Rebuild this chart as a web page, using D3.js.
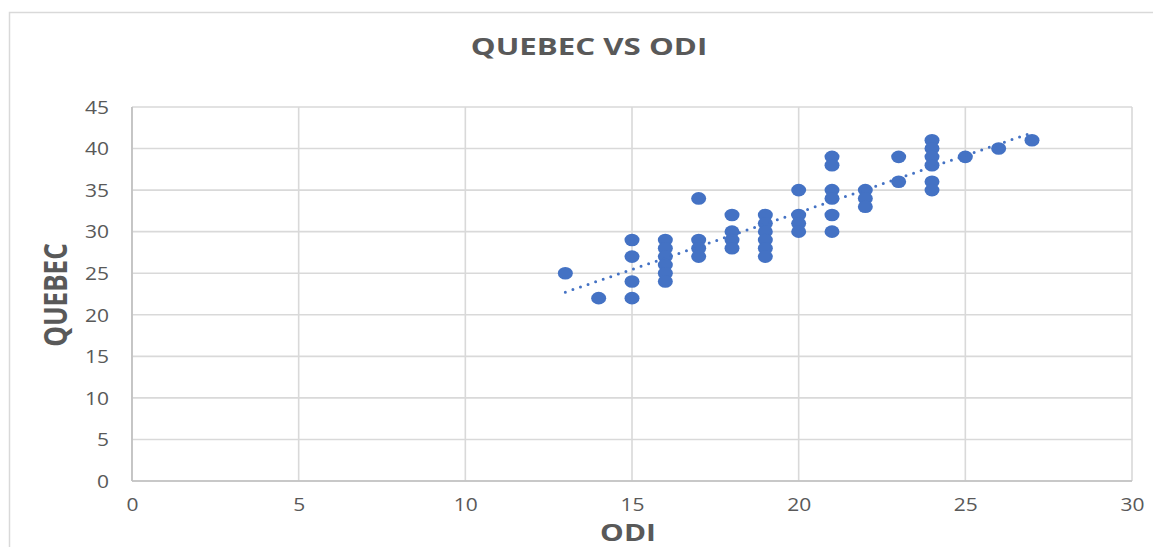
<!DOCTYPE html>
<html>
<head>
<meta charset="utf-8">
<script src="https://cdn.jsdelivr.net/npm/d3@7"></script>
<style>
  html, body { margin: 0; padding: 0; background: #fff; }
  svg { display: block; font-family: "Open Sans", sans-serif; }
</style>
</head>
<body>
<svg id="chart" width="1153" height="547"></svg>
<script>
// ---- data ----
const odi    = [13, 14, 15, 15, 15, 15, 16, 16, 16, 16, 16, 16, 17, 17, 17, 17, 18, 18, 18, 18,
                19, 19, 19, 19, 19, 19, 20, 20, 20, 20, 21, 21, 21, 21, 21, 21, 22, 22, 22,
                23, 23, 24, 24, 24, 24, 24, 24, 25, 26, 27];
const quebec = [25, 22, 29, 27, 24, 22, 29, 28, 27, 26, 25, 24, 34, 29, 28, 27, 32, 30, 29, 28,
                32, 31, 30, 29, 28, 27, 35, 32, 31, 30, 39, 38, 35, 34, 32, 30, 35, 34, 33,
                39, 36, 41, 40, 39, 38, 36, 35, 39, 40, 41];
const xTicks = [0, 5, 10, 15, 20, 25, 30];
const yTicks = [0, 5, 10, 15, 20, 25, 30, 35, 40, 45];
const chartTitle = "QUEBEC VS ODI";
const xTitle = "ODI";
const yTitle = "QUEBEC";

const svg = d3.select("#chart");
const pL = 132, pR = 1132, pT = 107, pB = 481;
const stretch = 1.2; // horizontal stretch of glyphs seen in the reference

const x = d3.scaleLinear().domain([0, 30]).range([pL, pR]);
const y = d3.scaleLinear().domain([0, 45]).range([pB, pT]);

// outer chart border
svg.append("rect").attr("x", 9.5).attr("y", 12.5).attr("width", 1160).attr("height", 560)
  .attr("fill", "#fff").attr("stroke", "#d9d9d9").attr("stroke-width", 1.5);

// gridlines
svg.append("g").selectAll("line").data(yTicks).join("line")
  .attr("x1", pL).attr("x2", pR).attr("y1", d => y(d)).attr("y2", d => y(d))
  .attr("stroke", "#d9d9d9").attr("stroke-width", 1.6);
svg.append("g").selectAll("line").data(xTicks).join("line")
  .attr("y1", pT).attr("y2", pB).attr("x1", d => x(d)).attr("x2", d => x(d))
  .attr("stroke", "#d9d9d9").attr("stroke-width", 1.6);

// axes lines
svg.append("line").attr("x1", pL).attr("x2", pL).attr("y1", pT).attr("y2", pB)
  .attr("stroke", "#bfbfbf").attr("stroke-width", 1.6);
svg.append("line").attr("x1", pL).attr("x2", pR).attr("y1", pB).attr("y2", pB)
  .attr("stroke", "#bfbfbf").attr("stroke-width", 1.6);

// tick labels via axis generators
const yAxis = d3.axisLeft(y).tickValues(yTicks).tickSize(0).tickPadding(0);
const gy = svg.append("g").attr("transform", `translate(${pL - 23},0)`).call(yAxis);
gy.select(".domain").remove();
gy.selectAll("text").attr("font-size", 17.5).attr("fill", "#595959").attr("font-family", "Open Sans")
  .attr("dy", "0.36em").attr("transform", `scale(${stretch},1)`);

const xAxis = d3.axisBottom(x).tickValues(xTicks).tickSize(0).tickPadding(0);
const gx = svg.append("g").attr("transform", `translate(0,${pB + 18})`).call(xAxis);
gx.select(".domain").remove();
gx.selectAll("text").attr("font-size", 17.5).attr("fill", "#595959").attr("font-family", "Open Sans")
  .attr("transform", `scale(${stretch},1)`);

// trendline (least squares from data)
const n = odi.length;
const mx = d3.mean(odi), my = d3.mean(quebec);
let sxy = 0, sxx = 0;
for (let i = 0; i < n; i++) { sxy += (odi[i] - mx) * (quebec[i] - my); sxx += (odi[i] - mx) ** 2; }
const slope = sxy / sxx, intercept = my - slope * mx;
const x0 = d3.min(odi), x1 = d3.max(odi);

// points
const pts = odi.map((v, i) => ({ x: v, y: quebec[i] }));
svg.append("g").selectAll("ellipse").data(pts).join("ellipse")
  .attr("cx", d => x(d.x)).attr("cy", d => y(d.y))
  .attr("rx", 7.5).attr("ry", 6.3).attr("fill", "#4472c4");

svg.append("line")
  .attr("x1", x(x0)).attr("y1", y(intercept + slope * x0))
  .attr("x2", x(x1)).attr("y2", y(intercept + slope * x1))
  .attr("stroke", "#4472c4").attr("stroke-width", 3)
  .attr("stroke-linecap", "round").attr("stroke-dasharray", "0 8");

// titles
svg.append("text").attr("transform", `translate(589,55) scale(1.33,1)`).attr("text-anchor", "middle")
  .attr("font-size", 23.5).attr("font-weight", "bold").attr("fill", "#595959").text(chartTitle);
svg.append("text").attr("transform", `translate(628,541) scale(1.3,1)`).attr("text-anchor", "middle")
  .attr("font-size", 23).attr("font-weight", "bold").attr("fill", "#595959").text(xTitle);
svg.append("text").attr("transform", `translate(67,295) scale(1.25,1) rotate(-90)`).attr("text-anchor", "middle")
  .attr("font-size", 26).attr("font-weight", "bold").attr("fill", "#595959").text(yTitle);
</script>
</body>
</html>
